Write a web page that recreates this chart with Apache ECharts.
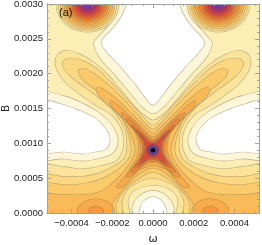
<!DOCTYPE html>
<html><head><meta charset="utf-8">
<script src="https://cdn.jsdelivr.net/npm/echarts@6/dist/echarts.min.js"></script>
<style>html,body{margin:0;padding:0;background:#fff}#c{width:262px;height:245px}</style>
</head><body><div id="c"></div>
<script>
// Units used in the contour arrays: omega in 1e-5, B in 1e-4
const OMEGA_UNIT = 1e-5, B_UNIT = 1e-4;

const xTickValues = [-0.0004, -0.0002, 0, 0.0002, 0.0004];
const xTickLabels = ['\u22120.0004', '\u22120.0002', '0.0000', '0.0002', '0.0004'];
const xMinorTicks = [-0.0005,-0.00045,-0.00035,-0.0003,-0.00025,-0.00015,-0.0001,-0.00005,0.00005,0.0001,0.00015,0.00025,0.0003,0.00035,0.00045,0.0005];
const yTickValues = [0, 0.0005, 0.001, 0.0015, 0.002, 0.0025, 0.003];
const yTickLabels = ['0.0000', '0.0005', '0.0010', '0.0015', '0.0020', '0.0025', '0.0030'];
const yMinorTicks = [0.0001,0.0002,0.0003,0.0004,0.0006,0.0007,0.0008,0.0009,0.0011,0.0012,0.0013,0.0014,0.0016,0.0017,0.0018,0.0019,0.0021,0.0022,0.0023,0.0024,0.0026,0.0027,0.0028,0.0029];

// contour level colours, lowest (0) to highest (18)
const levelColors = ['#FFFFFF','#FEF6D8','#FDEEB6','#FCE39A','#FBD781','#FACA6B','#F9BB59','#F7AB4A','#F59A3F','#F28838','#EE7332','#E75E34','#DD4A3D','#CC3A50','#B33266','#923483','#6D3AA8','#4A45D0','#000000'];

const plotBackground = [[-56,-1],[56,-1],[56,31],[-56,31]];
const creamKite = [[-16,31],[-16.3,30],[-19.3,28],[-23.5,26.3],[-27.7,25.0],[-29,24.2],[-25.8,22.2],[-18.5,19.8],[-11,17.2],[-5,15.2],[0,14.3],[5,15.2],[11,17.2],[18.5,19.8],[25.8,22.2],[29,24.2],[27.7,25.0],[23.5,26.3],[19.3,28],[16.3,30],[16,31]];
const whiteKite = [[-12.3,31],[-12.8,30],[-15.8,28],[-20.2,26.3],[-24.2,25.1],[-25.2,24.3],[-22.2,23.0],[-15.3,20.8],[-8.4,18.4],[-3.5,16.5],[0,15.5],[3.5,16.5],[8.4,18.4],[15.3,20.8],[22.2,23.0],[25.2,24.3],[24.2,25.1],[20.2,26.3],[15.8,28],[12.8,30],[12.3,31]];
const creamNotchL = [[-56,17.1],[-43.9,16.8],[-35.1,15.8],[-27.7,14.6],[-22.2,13.3],[-18.8,11.9],[-17.3,10.2],[-19.8,8.6],[-26.2,7.9],[-34.6,7.5],[-43.5,7.8],[-56,8.0]];
const creamNotchR = [[56,17.1],[43.9,16.8],[35.1,15.8],[27.7,14.6],[22.2,13.3],[18.8,11.9],[17.3,10.2],[19.8,8.6],[26.2,7.9],[34.6,7.5],[43.5,7.8],[56,8.0]];
const whiteNotchL = [[-56,16.1],[-44.9,15.6],[-37.0,14.8],[-29.6,13.8],[-24.7,12.6],[-22.2,11.6],[-21.2,10.5],[-23.2,9.2],[-28.6,8.8],[-34.6,8.5],[-43.5,8.8],[-56,9.0]];
const whiteNotchR = [[56,16.1],[44.9,15.6],[37.0,14.8],[29.6,13.8],[24.7,12.6],[22.2,11.6],[21.2,10.5],[23.2,9.2],[28.6,8.8],[34.6,8.5],[43.5,8.8],[56,9.0]];
const creamBump = [[-9.9,-1],[-9.4,1.4],[-5.4,2.7],[0,3.2],[5.4,2.7],[9.4,1.4],[9.9,-1]];
const whiteBump = [[-6.4,-1],[-5.9,1.0],[-3.5,1.9],[0,2.3],[3.5,1.9],[5.9,1.0],[6.4,-1]];

const band3 = [[0,13.3],[5.9,14.4],[10.9,15.9],[16.3,17.8],[22.2,19.8],[28.6,21.5],[36.0,22.8],[43.0,23.3],[47.4,22.4],[47.4,20.8],[43.0,18.8],[35.1,16.9],[27.7,15.4],[20.7,14.2],[16.3,12.6],[14.3,10.8],[14.8,9.0],[17.8,7.5],[26.2,6.7],[34.6,6.3],[43.5,6.6],[56,6.7],[56,-1],[12.3,-1],[12.3,1.9],[8.4,3.4],[0,4.0],[-8.4,3.4],[-12.3,1.9],[-12.3,-1],[-56,-1],[-56,6.7],[-43.5,6.6],[-34.6,6.3],[-26.2,6.7],[-17.8,7.5],[-14.8,9.0],[-14.3,10.8],[-16.3,12.6],[-20.7,14.2],[-27.7,15.4],[-35.1,16.9],[-43.0,18.8],[-47.4,20.8],[-47.4,22.4],[-43.0,23.3],[-36.0,22.8],[-28.6,21.5],[-22.2,19.8],[-16.3,17.8],[-10.9,15.9],[-5.9,14.4]];
const band4 = [[0,12.6],[4.4,13.6],[9.9,15.4],[15.3,17.1],[21.2,18.9],[27.7,20.7],[34.1,21.8],[40.0,22.2],[43.9,21.8],[43.5,20.7],[39.5,19.4],[32.6,17.9],[26.2,16.5],[20.7,15.1],[16.3,13.5],[13.3,11.6],[12.8,9.0],[14.8,7.6],[20.7,6.5],[27.7,5.6],[35.1,5.2],[43.9,5.2],[56,5.3],[56,-1],[15.3,-1],[15.3,1.6],[11.4,3.7],[0,5.0],[-11.4,3.7],[-15.3,1.6],[-15.3,-1],[-56,-1],[-56,5.3],[-43.9,5.2],[-35.1,5.2],[-27.7,5.6],[-20.7,6.5],[-14.8,7.6],[-12.8,9.0],[-13.3,11.6],[-16.3,13.5],[-20.7,15.1],[-26.2,16.5],[-32.6,17.9],[-39.5,19.4],[-43.5,20.7],[-43.9,21.8],[-40.0,22.2],[-34.1,21.8],[-27.7,20.7],[-21.2,18.9],[-15.3,17.1],[-9.9,15.4],[-4.4,13.6]];
const band5 = [[0,12.0],[4.0,12.9],[8.9,14.5],[14.8,16.4],[21.2,18.2],[28.1,19.8],[33.6,20.7],[36.5,20.5],[35.1,19.4],[29.1,17.9],[23.2,16.5],[18.3,14.9],[14.3,13.2],[11.9,11.3],[10.6,9.0],[12.3,7.6],[17.3,6.2],[24.2,5.0],[32.1,4.3],[42.0,4.0],[56,4.0],[56,-1],[18.3,-1],[18.3,1.3],[14.3,3.2],[8.4,4.7],[0,5.9],[-8.4,4.7],[-14.3,3.2],[-18.3,1.3],[-18.3,-1],[-56,-1],[-56,4.0],[-42.0,4.0],[-32.1,4.3],[-24.2,5.0],[-17.3,6.2],[-12.3,7.6],[-10.6,9.0],[-11.9,11.3],[-14.3,13.2],[-18.3,14.9],[-23.2,16.5],[-29.1,17.9],[-35.1,19.4],[-36.5,20.5],[-33.6,20.7],[-28.1,19.8],[-21.2,18.2],[-14.8,16.4],[-8.9,14.5],[-4.0,12.9]];
const band6 = [[0,11.4],[3.5,12.2],[8.4,13.6],[13.8,15.2],[19.8,16.8],[24.7,17.8],[27.7,17.9],[26.7,16.9],[22.7,15.8],[17.8,14.5],[13.3,12.9],[10.4,11.1],[8.6,9.0],[10.4,7.5],[14.3,5.9],[19.8,4.3],[26.2,3.0],[35.1,2.6],[44.9,2.6],[56,2.6],[56,-1],[21.2,-1],[20.2,1.15],[16.3,2.9],[10.9,4.6],[5.4,5.9],[0,6.5],[-5.4,5.9],[-10.9,4.6],[-16.3,2.9],[-20.2,1.15],[-21.2,-1],[-56,-1],[-56,2.6],[-44.9,2.6],[-35.1,2.6],[-26.2,3.0],[-19.8,4.3],[-14.3,5.9],[-10.4,7.5],[-8.6,9.0],[-10.4,11.1],[-13.3,12.9],[-17.8,14.5],[-22.7,15.8],[-26.7,16.9],[-27.7,17.9],[-24.7,17.8],[-19.8,16.8],[-13.8,15.2],[-8.4,13.6],[-3.5,12.2]];
const star7 = [[0,10.9],[2.0,11.2],[5.4,12.2],[10.4,13.6],[15.8,15.1],[20.7,16.1],[19.8,15.1],[15.3,13.9],[10.9,12.5],[7.9,11.1],[6.9,10.0],[6.9,9.0],[7.9,7.9],[10.9,6.5],[14.3,5.0],[17.8,3.7],[14.3,3.9],[10.9,5.0],[6.9,6.2],[3.0,6.7],[0,6.9],[-3.0,6.7],[-6.9,6.2],[-10.9,5.0],[-14.3,3.9],[-17.8,3.7],[-14.3,5.0],[-10.9,6.5],[-7.9,7.9],[-6.9,9.0],[-6.9,10.0],[-7.9,11.1],[-10.9,12.5],[-15.3,13.9],[-19.8,15.1],[-20.7,16.1],[-15.8,15.1],[-10.4,13.6],[-5.4,12.2],[-2.0,11.2]];
const star8 = [[0,10.5],[2.0,10.9],[5.4,11.9],[9.9,13.2],[15.3,14.4],[13.8,13.5],[9.9,12.3],[6.9,10.9],[5.7,9.0],[6.9,7.9],[9.9,6.5],[12.8,5.2],[9.9,5.5],[6.4,6.6],[3.0,7.2],[0,7.3],[-3.0,7.2],[-6.4,6.6],[-9.9,5.5],[-12.8,5.2],[-9.9,6.5],[-6.9,7.9],[-5.7,9.0],[-6.9,10.9],[-9.9,12.3],[-13.8,13.5],[-15.3,14.4],[-9.9,13.2],[-5.4,11.9],[-2.0,10.9]];
const star9 = [[0,10.3],[2.0,10.6],[5.4,11.6],[9.4,12.8],[12.8,13.5],[11.9,12.8],[8.4,11.9],[5.9,10.6],[4.9,9.0],[5.9,8.0],[8.4,6.9],[10.9,5.9],[7.9,6.2],[4.9,6.9],[2.5,7.5],[0,7.5],[-2.5,7.5],[-4.9,6.9],[-7.9,6.2],[-10.9,5.9],[-8.4,6.9],[-5.9,8.0],[-4.9,9.0],[-5.9,10.6],[-8.4,11.9],[-11.9,12.8],[-12.8,13.5],[-9.4,12.8],[-5.4,11.6],[-2.0,10.6]];
const star10 = [[0,10.2],[2.0,10.4],[4.9,11.2],[10.4,12.6],[8.9,11.9],[6.4,11.1],[4.9,10.2],[4.4,9.0],[5.4,8.2],[8.9,6.5],[5.9,6.9],[3.5,7.5],[0,7.7],[-3.5,7.5],[-5.9,6.9],[-8.9,6.5],[-5.4,8.2],[-4.4,9.0],[-4.9,10.2],[-6.4,11.1],[-8.9,11.9],[-10.4,12.6],[-4.9,11.2],[-2.0,10.4]];
const star11 = [[0,10.0],[2.0,10.2],[4.4,10.9],[8.4,11.9],[6.9,11.3],[4.9,10.6],[4.0,9.9],[4.0,9.0],[4.9,8.2],[7.4,6.9],[4.9,7.3],[2.5,7.8],[0,7.8],[-2.5,7.8],[-4.9,7.3],[-7.4,6.9],[-4.9,8.2],[-4.0,9.0],[-4.0,9.9],[-4.9,10.6],[-6.9,11.3],[-8.4,11.9],[-4.4,10.9],[-2.0,10.2]];
const star12 = [[0,9.9],[2.0,10.1],[4.0,10.6],[6.4,11.2],[5.4,10.7],[4.0,10.2],[3.5,9.6],[3.5,9.0],[4.0,8.5],[5.9,7.3],[4.0,7.6],[2.0,7.9],[0,8.0],[-2.0,7.9],[-4.0,7.6],[-5.9,7.3],[-4.0,8.5],[-3.5,9.0],[-3.5,9.6],[-4.0,10.2],[-5.4,10.7],[-6.4,11.2],[-4.0,10.6],[-2.0,10.1]];

// concentric peaks: centres and ring radii (omega units, B units) per level
const topBlobCenters = [[-32.1, 30.0], [32.1, 30.0]];
const topBlobLevels = [3,4,5,6,7,8,9,10,11,12,13,14,15,16];
const topBlobRadiiOmega = [15.3,14.3,13.3,12.3,11.4,10.4,9.4,8.4,7.4,6.4,5.4,4.4,3.5,2.2];
const topBlobRadiiB = [4.0,3.75,3.49,3.23,2.97,2.71,2.45,2.2,1.94,1.68,1.42,1.16,0.9,0.58];
const lowBlobCenters = [[-28.1, 0.15], [28.1, 0.15]];
const lowBlobLevels = [7, 8];
const lowBlobRadiiOmega = [9.0, 3.6];
const lowBlobRadiiB = [1.85, 0.8];
const peakCenter = [0, 9.0];
const peakLevels = [13,14,15,16,17,18];
const peakRadiiOmega = [3.06,2.67,2.32,1.98,1.58,1.14];
const peakRadiiB = [0.89,0.775,0.675,0.574,0.459,0.33];

// ---- build shape list (drawing order) ----
const shapes = [];
function poly(order, level, pts) { shapes.push({order, level, pts}); }
function ell(order, level, c, rw, rb) { shapes.push({order, level, c, rw, rb}); }
poly(0, 2, plotBackground);
[creamKite, creamNotchL, creamNotchR, creamBump].forEach(p => poly(1, 1, p));
[whiteKite, whiteNotchL, whiteNotchR, whiteBump].forEach(p => poly(2, 0, p));
const bands = {3: band3, 4: band4, 5: band5, 6: band6, 7: star7, 8: star8, 9: star9, 10: star10, 11: star11, 12: star12};
for (let lv = 3; lv <= 18; lv++) {
  if (bands[lv]) poly(lv, lv, bands[lv]);
  const ti = topBlobLevels.indexOf(lv);
  if (ti >= 0) topBlobCenters.forEach(c => ell(lv, lv, c, topBlobRadiiOmega[ti], topBlobRadiiB[ti]));
  const li = lowBlobLevels.indexOf(lv);
  if (li >= 0) lowBlobCenters.forEach(c => ell(lv, lv, c, lowBlobRadiiOmega[li], lowBlobRadiiB[li]));
  const pi = peakLevels.indexOf(lv);
  if (pi >= 0) ell(lv, lv, peakCenter, peakRadiiOmega[pi], peakRadiiB[pi]);
}
const toData = p => [p[0] * OMEGA_UNIT, p[1] * B_UNIT];

const LINE = 'rgba(95,90,80,0.42)';
function renderItem(params, api) {
  const s = shapes[params.dataIndex];
  const mk = () => {
    if (s.pts) return {type: 'polygon', shape: {points: s.pts.map(p => api.coord(toData(p))), smooth: s.order === 0 ? 0 : 0.35}};
    const c = api.coord(toData(s.c));
    const sz = api.size(toData([s.rw, s.rb]));
    return {type: 'ellipse', shape: {cx: c[0], cy: c[1], rx: sz[0], ry: sz[1]}};
  };
  const children = [];
  if (s.order > 0) {
    const o = mk(); o.z2 = s.order * 2; o.style = {fill: null, stroke: LINE, lineWidth: 1.3}; children.push(o);
  }
  const f = mk(); f.z2 = s.order * 2 + 1; f.style = {fill: levelColors[s.level], stroke: null}; children.push(f);
  return {type: 'group', children};
}

const AX = '#a2a2a2';
const labelStyle = {color: '#222', fontSize: 9.5, fontFamily: 'Liberation Sans, Arial, sans-serif'};
function xAx(pos, ticks, len, labels) {
  return {type: 'value', min: -0.00052, max: 0.00052, position: pos, offset: 0, z: 10,
    axisLine: {show: true, onZero: false, lineStyle: {color: AX, width: 1}},
    axisTick: {show: true, inside: true, length: len, customValues: ticks, lineStyle: {color: AX}},
    axisLabel: labels ? Object.assign({show: true, margin: 5, customValues: xTickValues,
      formatter: v => xTickLabels[xTickValues.findIndex(t => Math.abs(t - v) < 1e-9)]}, labelStyle) : {show: false},
    splitLine: {show: false},
    name: labels ? '\u03c9' : '', nameLocation: 'middle', nameGap: 21, nameMoveOverlap: false,
    nameTextStyle: {color: '#222', fontSize: 11, fontFamily: 'DejaVu Sans'}};
}
function yAx(pos, ticks, len, labels) {
  return {type: 'value', min: 0, max: 0.003, position: pos, offset: 0, z: 10,
    axisLine: {show: true, onZero: false, lineStyle: {color: AX, width: 1}},
    axisTick: {show: true, inside: true, length: len, customValues: ticks, lineStyle: {color: AX}},
    axisLabel: labels ? Object.assign({show: true, margin: 4, customValues: yTickValues,
      formatter: v => yTickLabels[yTickValues.findIndex(t => Math.abs(t - v) < 1e-9)]}, labelStyle) : {show: false},
    splitLine: {show: false},
    name: labels ? 'B' : '', nameLocation: 'middle', nameGap: 36, nameRotate: 90, nameMoveOverlap: false,
    nameTextStyle: {color: '#222', fontSize: 10, fontFamily: 'Liberation Sans, Arial, sans-serif'}};
}

const chart = echarts.init(document.getElementById('c'), null, {renderer: 'canvas'});
chart.setOption({
  animation: false,
  backgroundColor: '#fff',
  grid: {left: 47, right: 3, top: 4, bottom: 32, containLabel: false, outerBoundsMode: 'none'},
  xAxis: [xAx('bottom', xTickValues, 4, true), xAx('bottom', xMinorTicks, 2, false), xAx('top', xTickValues, 4, false), xAx('top', xMinorTicks, 2, false)],
  yAxis: [yAx('left', yTickValues, 4, true), yAx('left', yMinorTicks, 2, false), yAx('right', yTickValues, 4, false), yAx('right', yMinorTicks, 2, false)],
  series: [{type: 'custom', coordinateSystem: 'cartesian2d', xAxisIndex: 0, yAxisIndex: 0, clip: true, silent: true,
    renderItem, data: shapes.map(s => toData(s.pts ? s.pts[0] : s.c))}],
  graphic: [{type: 'text', left: 59, top: 7, z: 20, style: {text: '(a)', fill: '#111', fontSize: 11, fontFamily: 'Liberation Sans, Arial, sans-serif'}}]
});
</script></body></html>
